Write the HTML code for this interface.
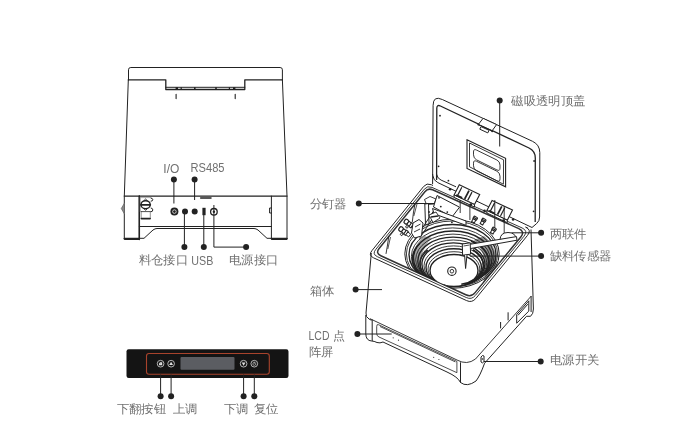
<!DOCTYPE html>
<html><head><meta charset="utf-8">
<style>
html,body{margin:0;padding:0;background:#fff;width:700px;height:434px;overflow:hidden}
svg{position:absolute;left:0;top:0;will-change:transform}
text{font-family:"Liberation Sans",sans-serif;fill:#707070}
.l{fill:none;stroke:#222;stroke-width:1;stroke-linejoin:round;stroke-linecap:round}
.t{fill:none;stroke:#222;stroke-width:1.6}
.p{fill:none;stroke:#222;stroke-width:1}
.d{fill:#222}
</style></head><body>
<svg width="700" height="434" viewBox="0 0 700 434">
<!-- ============ LEFT DEVICE (rear view) ============ -->
<g class="l">
  <path d="M128.5,80 V69.8 Q128.5,67.5 130.8,67.5 H280.1 Q282.4,67.5 282.4,69.8 V80"/>
  <path d="M128.3,79.8 H165.8 V89.5 H244.8 V79.8 H282.4" stroke-width="1.3"/>
  <path d="M165.8,87.3 H244.8" stroke-width="1"/>
  <path d="M175.6,88.4 H178 M180.6,88.4 H181.8 M194,88.4 H195.6 M215.2,88.4 H216.8 M228.8,88.4 H230 M233,88.4 H235.4" stroke-width="2.4" stroke-linecap="butt"/>
  <path d="M128.3,80 L124.3,196.1 V239.5 H139.3 V196.1" /><path d="M139.3,196.1 V239.5" stroke-width="1.5"/>
  <path d="M282.4,80 L287,196.1 V239.5 H271.4 V196.1"/>
  <path d="M124.3,196.1 H287" stroke-width="1.4"/>
  <path d="M139.3,226.5 H271.4"/>
  <path d="M139.3,238.3 H144 L153,230 Q155,228.5 157,228.5 H254 Q256,228.5 258,230 L267,238.3 H271.4"/>
  <path d="M124.3,238.6 H139.3 M271.4,238.6 H287" stroke-width="1.6"/>
  <path d="M176.1,94.2 V98.6 M235.2,94.2 V98.6" stroke-width="1.1"/>
  <!-- left tab -->
  <path d="M124.3,203.4 L121.3,208.5 L124.3,213.7 Z" fill="#888" stroke="#666" stroke-width="0.8"/>
  <path d="M271.4,208 H269.6 V213 H271.4" />
  <!-- connector -->
  <path d="M140.3,197.6 H150.9 M140.3,197.6 V211.5" stroke="#999" stroke-width="0.8"/>
  <ellipse cx="145.6" cy="204.7" rx="4.6" ry="4" stroke-width="1.5"/>
  <path d="M141,204.8 H150.3" stroke-width="1.7"/>
  <path d="M143.8,200.8 L145.6,199 L147.4,200.8 M143.8,208.6 L145.6,210.4 L147.4,208.6" stroke-width="0.9"/>
  <path d="M151.1,198.1 Q152.8,198.3 152.8,199.7 Q152.8,201.2 151.1,201.2 M151.1,208 Q152.8,208.2 152.8,209.9 Q152.8,211.8 151.1,211.8" stroke-width="1"/>
  <path d="M141.2,211.5 V218.6 M150.3,211.5 V218.6" stroke="#888" stroke-width="0.9"/>
  <path d="M141.2,211.6 H150.3" stroke-width="0.8"/>
  <path d="M141.5,218.6 H150" stroke-width="1.8"/>
  <!-- slot on top line -->
  <path d="M200.7,198 H211" stroke-width="1.5"/>
</g>
<!-- ports -->
<g>
  <circle cx="174.4" cy="211.6" r="4" fill="#222"/>
  <circle cx="174.4" cy="211.6" r="1.8" fill="none" stroke="#fff" stroke-width="0.7"/>
  <circle cx="185" cy="211.6" r="3" fill="#222"/>
  <circle cx="194.7" cy="211.6" r="3" fill="#222"/>
  <rect x="202.4" y="207.8" width="3.2" height="7.4" fill="#222"/>
  <circle cx="213.9" cy="211.8" r="3.3" fill="none" stroke="#222" stroke-width="1.3"/>
  <circle cx="213.9" cy="211.8" r="1.2" fill="#222"/>
</g>
<!-- callouts left -->
<g class="p">
  <path d="M173.9,179.6 V203.5"/>
  <path d="M194.6,179.6 V200"/>
  <path d="M184.4,214 V247.1"/>
  <path d="M203.8,215 V247.1"/>
  <path d="M213.9,205 V247.1 H246.1"/>
</g>
<g class="d">
  <circle cx="173.9" cy="179.6" r="3"/>
  <circle cx="194.6" cy="179.6" r="3"/>
  <circle cx="184.4" cy="247.1" r="3"/>
  <circle cx="203.8" cy="247.1" r="3"/>
  <circle cx="246.1" cy="247.1" r="3"/>
</g>
<text x="163.3" y="172.6" font-size="13.2" textLength="16" lengthAdjust="spacingAndGlyphs">I/O</text>
<text x="190.5" y="172.4" font-size="13" textLength="34" lengthAdjust="spacingAndGlyphs">RS485</text>
<text x="138.5" y="264.3" font-size="12" textLength="49.6" lengthAdjust="spacingAndGlyphs">料仓接口</text>
<text x="191.3" y="265.3" font-size="13" textLength="22" lengthAdjust="spacingAndGlyphs">USB</text>
<text x="229" y="264.3" font-size="12" textLength="49.6" lengthAdjust="spacingAndGlyphs">电源接口</text>

<!-- ============ CONTROL PANEL ============ -->
<rect x="126.5" y="349.2" width="162" height="28.7" rx="2.2" fill="#141414"/>
<rect x="146.5" y="353.5" width="122.8" height="20.8" rx="2.5" fill="none" stroke="#a8432c" stroke-width="1.1"/>
<rect x="180.5" y="356.9" width="54" height="12.8" rx="1" fill="#5b5d62"/>
<g fill="none" stroke="#cfcfcf" stroke-width="0.85">
  <circle cx="160.6" cy="363.7" r="3.35"/>
  <circle cx="171.1" cy="363.7" r="3.35"/>
  <circle cx="243.6" cy="363.7" r="3.35"/>
  <circle cx="254.3" cy="363.7" r="3.35"/>
</g>
<g fill="#ddd">
  <path d="M159.6,362.3 H162.2 V365.2 H159 V363 Z"/><path d="M158.8,362 L160.2,363.3" stroke="#141414" stroke-width="0.8"/>
  <path d="M171.1,361.7 L173,365 H169.2Z"/>
  <path d="M243.6,365.7 L245.5,362.4 H241.7Z"/>
  <circle cx="254.3" cy="363.9" r="1.5" fill="none" stroke="#bbb" stroke-width="0.7"/><path d="M254.3,361.6 V363.8" stroke="#bbb" stroke-width="0.7"/>
</g>
<g class="p">
  <path d="M160.6,374.5 V396.3 M171.1,374.5 V396.3 M243.6,374.5 V396.3 M254.3,374.5 V396.3"/>
</g>
<g class="d">
  <circle cx="160.6" cy="396.3" r="3"/>
  <circle cx="171.1" cy="396.3" r="3"/>
  <circle cx="243.6" cy="396.3" r="3"/>
  <circle cx="254.3" cy="396.3" r="3"/>
</g>
<text x="116.5" y="413.2" font-size="12" textLength="49.6" lengthAdjust="spacingAndGlyphs">下翻按钮</text>
<text x="172.5" y="413.2" font-size="12" textLength="24.8" lengthAdjust="spacingAndGlyphs">上调</text>
<text x="224" y="413.2" font-size="12" textLength="24.8" lengthAdjust="spacingAndGlyphs">下调</text>
<text x="253.5" y="413.2" font-size="12" textLength="24.8" lengthAdjust="spacingAndGlyphs">复位</text>

<!-- ============ RIGHT DEVICE ============ -->
<g id="right">
<!-- rim A0 (426.7266272189349, 182.62698224852073) B0 (368.09882352941173, 255.32545882352946) C0 (472.01785714285717, 303.1282142857143) D0 (531.9700598802395, 229.98652694610774) -->
<path d="M432.6,184 L433.1,105.3 Q433.2,95.3 442.3,99.5 L532.5,141.3 Q539.8,144.7 539.8,152.7 L539.6,217 Q539.6,221 536.6,223.6 L532,227.5" stroke="#222" fill="none" stroke-width="1"/>
<path d="M436.6,180 L436.8,108.3 Q436.8,104.3 440.4,106 L529,148 Q535.3,151 535.3,158 L535.2,222" stroke="#222" fill="none" stroke-width="1.3"/>
<path d="M432.6,174 L432.8,175.5 Q433.3,180.5 437.8,182.6 L532,227.5" stroke="#222" fill="none" stroke-width="1"/>
<path d="M436.6,174 L436.7,174.6 Q437.5,178.5 441.1,180.1 L456,186.8" stroke="#222" fill="none" stroke-width="1"/>
<circle cx="440" cy="115.7" r="0.9" fill="#222"/>
<circle cx="438.6" cy="166.3" r="0.9" fill="#222"/>
<circle cx="448.4" cy="180.7" r="0.9" fill="#222"/>
<circle cx="534.1" cy="161" r="0.9" fill="#222"/>
<circle cx="533.6" cy="211.3" r="0.9" fill="#222"/>
<path d="M467,139.8 L505.6,158.3 L505.6,186.8 L467,168.4 Z" stroke="#222" fill="none" stroke-width="1.1"/>
<path d="M469.5,143 L503.6,159.8 L503.4,184.2 L469.5,166.8 Z" stroke="#222" fill="none" stroke-width="0.9"/>
<path d="M473.5,152 Q473.5,148.5 476.6,150.1 L496.9,160 Q500,161.6 500,165.1 L500,168 Q500,171.5 496.9,169.9 L476.6,159.9 Q473.5,158.3 473.5,154.8 Z" stroke="#222" fill="none" stroke-width="0.9"/>
<path d="M473.5,163.2 Q473.5,159.7 476.6,161.3 L496.9,171.2 Q500,172.8 500,176.3 L500,178.8 Q500,182.3 496.9,180.8 L476.6,170.8 Q473.5,169.3 473.5,165.8 Z" stroke="#222" fill="none" stroke-width="0.9"/>
<path d="M483.1,118.3 L496.6,124.6 L492.1,130.8 L478.3,124.5 Z" stroke="#222" fill="#fff" stroke-width="1" />
<path d="M478.3,124.5 L492.1,130.8" stroke="#222" fill="none" stroke-width="1.3" />
<path d="M481,126.6 L489,130.3 L487.8,132.9 L479.8,129.2 Z" stroke="#222" fill="#fff" stroke-width="1" />
<circle cx="478.4" cy="124.6" r="1" fill="#222"/>
<circle cx="492.2" cy="131.3" r="1" fill="#222"/>
<path d="M433,185.5 L431.3,184.7 Q426.7,182.6 423.6,186.5 L371.9,250.7 Q368.1,255.3 373.5,257.8 L466.6,300.6 Q472,303.1 475.8,298.5 L527.5,235.4 Q532,230 525.6,227.1 L527.8,228.1" stroke="#222" fill="none" stroke-width="1"/>
<path d="M432,187.4 Q427.4,185.3 424.3,189.2 L375.7,249.5 Q371.9,254.2 377.4,256.7 L466.2,297.5 Q471.6,300.1 475.4,295.4 L524,236.2 Q528.4,230.8 522,227.9 Z" stroke="#222" fill="none" stroke-width="0.9"/>
<path d="M432.6,189.8 Q428.1,187.8 424.9,191.7 L379.1,248.5 Q375.4,253.2 380.8,255.7 L465.8,294.8 Q471.3,297.3 475.1,292.6 L520.8,236.9 Q525.2,231.5 518.8,228.6 Z" stroke="#333" fill="none" stroke-width="1.5"/>
<path d="M371.3,253 L366,313 Q365.5,317 369,319 L371.5,320.3" stroke="#222" fill="none" stroke-width="1" />
<path d="M370,318.7 L457,360 Q467,365.5 475.5,359 L531.3,296" stroke="#222" fill="none" stroke-width="0.9" />
<path d="M531,229.5 L533.4,309 Q533.4,314 530.5,316.3 L526.5,316.3 L484.6,363.2" stroke="#222" fill="none" stroke-width="1" />
<path d="M531.1,296 V312" stroke="#222" fill="none" stroke-width="1" />
<path d="M365.8,315 V334 Q366,340.5 371.5,341 Q374,341 377,342.5 Q380,343.5 383,342 L447,372 Q458,377 460.5,382.5 Q467,387.5 476,381 Q480,376 484.6,363.2" stroke="#222" fill="none" stroke-width="1" />
<path d="M372.2,319.5 V341" stroke="#222" fill="none" stroke-width="1" />
<path d="M460.5,362.3 V382.8" stroke="#222" fill="none" stroke-width="1" />
<path d="M378.5,324.7 L456.9,361.4 V372.7 L379,337 Q376.7,336 376.7,333.5 V326.5 Q376.7,323.8 378.5,324.7 Z" stroke="#222" fill="none" stroke-width="0.8" />
<path d="M380,326.5 L455.3,361.9" stroke="#222" fill="none" stroke-width="0.8" />
<circle cx="393.2" cy="337.8" r="0.6" fill="#333"/>
<circle cx="398.5" cy="340.2" r="0.6" fill="#333"/>
<circle cx="433.7" cy="357.3" r="0.6" fill="#333"/>
<circle cx="438.9" cy="359.5" r="0.6" fill="#333"/>
<path d="M516.7,314.6 L528.8,300.8 V311.1 L516.7,323.2 Z" stroke="#222" fill="none" stroke-width="1" />
<path d="M518,315.3 L527.8,304.2" stroke="#222" fill="none" stroke-width="1" />
<path d="M508.1,312.3 V320.4 M500.6,322 V328.4" stroke="#222" fill="none" stroke-width="1" />
<path d="M481,357 Q482.5,354.5 484,356 V361.5 Q482.5,364 481,362 Z" stroke="#222" fill="#fff" stroke-width="1" />
<circle cx="482.5" cy="359" r="0.8" fill="#222"/>
<clipPath id="bowlclip"><path d="M428.1,187.8 L375.4,253.2 L471.3,297.3 L525.2,231.5 Z"/></clipPath>
<g clip-path="url(#bowlclip)">
<ellipse cx="452" cy="253.8" rx="47.2" ry="34.5" stroke="#222" fill="none" stroke-width="1"/>
<ellipse cx="452" cy="254" rx="45.6" ry="33" stroke="#222" fill="none" stroke-width="0.9"/>
<ellipse cx="452.5" cy="254.5" rx="43.5" ry="30" stroke="#222" fill="none" stroke-width="1.4"/>
<ellipse cx="452.7" cy="256.3" rx="41.3" ry="28.4" stroke="#222" fill="none" stroke-width="0.9"/>
<ellipse cx="452.8" cy="258" rx="39.3" ry="27" stroke="#222" fill="none" stroke-width="1.4"/>
<ellipse cx="453" cy="259.6" rx="37.3" ry="25.5" stroke="#222" fill="none" stroke-width="0.9"/>
<ellipse cx="453.1" cy="261.2" rx="35.3" ry="24.1" stroke="#222" fill="none" stroke-width="1.4"/>
<ellipse cx="453.3" cy="262.8" rx="33.4" ry="22.8" stroke="#222" fill="none" stroke-width="0.9"/>
<ellipse cx="453.4" cy="264.3" rx="31.5" ry="21.4" stroke="#222" fill="none" stroke-width="1.4"/>
<ellipse cx="453.6" cy="265.9" rx="29.6" ry="20" stroke="#222" fill="none" stroke-width="0.9"/>
<ellipse cx="453.7" cy="267.4" rx="27.7" ry="18.7" stroke="#222" fill="none" stroke-width="1.4"/>
<ellipse cx="453.9" cy="269" rx="25.9" ry="17.3" stroke="#222" fill="none" stroke-width="0.9"/>
<ellipse cx="454" cy="270.5" rx="24" ry="16" stroke="#222" fill="#fff" stroke-width="1.4"/>
<path d="M484,236 Q499,248 496,268 Q493,284 478,292 Q487,280 485,263 Q483,248 474,240 Z" fill="#222" opacity="0.5"/>
<path d="M424,236 Q409,250 412,268 Q415,282 425,291 Q420,276 421,260 Q423,246 432,238 Z" fill="#222" opacity="0.4"/>
<path d="M471,241.2 A36,24 0 0 1 465.3,284.6" stroke="#222" fill="none" stroke-width="1.6"/>
<path d="M472.8,249.7 A30,20 0 0 1 461.3,284.3" stroke="#222" fill="none" stroke-width="1.6"/>
<path d="M445.6,285.6 A40,27 0 0 1 419.7,243.5" stroke="#222" fill="none" stroke-width="1.5"/>
<path d="M444.5,285.3 A33,22 0 0 1 427.7,249.9" stroke="#222" fill="none" stroke-width="1.5"/>
<circle cx="451.9" cy="271.2" r="4.2" stroke="#222" fill="none" stroke-width="1.1"/>
<circle cx="451.9" cy="271.2" r="1.8" stroke="#222" fill="none" stroke-width="0.9"/>
</g>
<path d="M460.2,196 V213 M469.9,200 V220" stroke="#222" fill="none" stroke-width="0.9" />
<path d="M459.3,184.8 L479.7,194.5 L474.5,204.6 L454.1,194.9 Z" stroke="#222" fill="#fff" stroke-width="1.1" />
<path d="M461.8,187.3 l-4.3,8.3" stroke="#222" fill="none" stroke-width="1.2" />
<path d="M469,190.7 l-4.3,8.3" stroke="#222" fill="none" stroke-width="1.7" />
<path d="M472,192.1 l-4.3,8.3" stroke="#222" fill="none" stroke-width="1.2" />
<path d="M454.1,194.9 L474.5,204.6 l0,2.5 L454.1,197.4 Z" stroke="#222" fill="#fff" stroke-width="1" />
<path d="M456.1,195.1 L462.1,197.9" stroke="#222" fill="none" stroke-width="1.8" />
<path d="M492.1,200.4 L512.5,210.1 L507.3,220.2 L486.9,210.5 Z" stroke="#222" fill="#fff" stroke-width="1.1" />
<path d="M494.6,202.9 l-4.3,8.3" stroke="#222" fill="none" stroke-width="1.2" />
<path d="M501.8,206.3 l-4.3,8.3" stroke="#222" fill="none" stroke-width="1.7" />
<path d="M504.8,207.7 l-4.3,8.3" stroke="#222" fill="none" stroke-width="1.2" />
<path d="M486.9,210.5 L507.3,220.2 l0,2.5 L486.9,213 Z" stroke="#222" fill="#fff" stroke-width="1" />
<path d="M488.9,210.7 L494.9,213.5" stroke="#222" fill="none" stroke-width="1.8" />
<circle cx="450.1" cy="189.2" r="1.3" fill="#222"/>
<circle cx="513.1" cy="219.5" r="1.3" fill="#222"/>
<circle cx="484.5" cy="210.7" r="1.3" fill="#222"/>
<circle cx="470.8" cy="204.5" r="1.3" fill="#222"/>
<circle cx="503.5" cy="220.5" r="1.3" fill="#222"/>
<path d="M424.5,199.5 L430,196.5 L436,199 L434,204 L426.5,204.5 Z" stroke="#222" fill="#fff" stroke-width="0.9" />
<path d="M437,195.5 L459.5,207.2 L452,217 L433.5,207 Z" stroke="#222" fill="#fff" stroke-width="1" />
<path d="M424.8,204 L428.5,203.5 L429,224 L425.5,224.5 Z" stroke="#222" fill="#fff" stroke-width="1" />
<path d="M434.5,209.5 L416.5,237 M437.5,211 L419.5,238.5" stroke="#222" fill="none" stroke-width="1" />
<path d="M432.5,208.5 L466,221 L466,225.3 L434,213.8 Z" stroke="#222" fill="#fff" stroke-width="1" />
<path d="M429,215 L436,212 L440,218 L433,222.5 Z" stroke="#222" fill="#fff" stroke-width="0.9" />
<path d="M431,217 L438,216" stroke="#222" fill="none" stroke-width="1.4" />
<circle cx="439" cy="197.8" r="0.9" fill="#222"/>
<circle cx="440.8" cy="206.6" r="0.9" fill="#222"/>
<circle cx="447.3" cy="212.1" r="0.9" fill="#222"/>
<circle cx="451.9" cy="222.3" r="0.9" fill="#222"/>
<circle cx="429" cy="212" r="0.9" fill="#222"/>
<g transform="translate(404.7,220.5) rotate(36)">
<rect x="0" y="-2.3" width="4" height="4.6" rx="1.6" stroke="#222" fill="#fff" stroke-width="1.2"/>
<rect x="4" y="-1.9" width="3" height="3.8" stroke="#222" fill="#fff" stroke-width="1"/>
<rect x="7" y="-2.4" width="2.2" height="4.8" stroke="#222" fill="#fff" stroke-width="1"/>
<rect x="9.2" y="-1.7" width="3.5" height="3.4" stroke="#222" fill="#fff" stroke-width="0.9"/>
<circle cx="5.5" cy="3.8" r="1.2" stroke="#222" fill="#fff" stroke-width="0.9"/>
</g>
<g transform="translate(399.4,228) rotate(36)">
<rect x="0" y="-2.3" width="4" height="4.6" rx="1.6" stroke="#222" fill="#fff" stroke-width="1.2"/>
<rect x="4" y="-1.9" width="3" height="3.8" stroke="#222" fill="#fff" stroke-width="1"/>
<rect x="7" y="-2.4" width="2.2" height="4.8" stroke="#222" fill="#fff" stroke-width="1"/>
<rect x="9.2" y="-1.7" width="3.5" height="3.4" stroke="#222" fill="#fff" stroke-width="0.9"/>
<circle cx="5.5" cy="3.8" r="1.2" stroke="#222" fill="#fff" stroke-width="0.9"/>
</g>
<path d="M413,223 L419,219.5 L423,223 L421.5,236 L414.5,238 L411.5,233 Z" stroke="#222" fill="#fff" stroke-width="1" />
<path d="M415,227 L420.5,224 M414,232 L420,229" stroke="#222" fill="none" stroke-width="0.9" />
<path d="M415,204 L413.5,212 L412.3,222" stroke="#222" fill="none" stroke-width="0.9" />
<path d="M417,204 L413.8,216" stroke="#222" fill="none" stroke-width="0.8" />
<path d="M388.8,236 L387.5,245 L386,253.9" stroke="#222" fill="none" stroke-width="0.9" />
<path d="M390.5,237 L387.8,249" stroke="#222" fill="none" stroke-width="0.8" />
<g transform="translate(474.5,219.5) rotate(30)">
<rect x="-2" y="-3" width="4" height="3" rx="0.6" stroke="#222" fill="#fff" stroke-width="1.1"/>
<rect x="-1.5" y="0" width="3" height="3.2" stroke="#222" fill="#fff" stroke-width="1"/>
<path d="M-2,-1.5 H2" stroke="#222" stroke-width="1"/>
</g>
<g transform="translate(483,221.5) rotate(30)">
<rect x="-2" y="-3" width="4" height="3" rx="0.6" stroke="#222" fill="#fff" stroke-width="1.1"/>
<rect x="-1.5" y="0" width="3" height="3.2" stroke="#222" fill="#fff" stroke-width="1"/>
<path d="M-2,-1.5 H2" stroke="#222" stroke-width="1"/>
</g>
<g transform="translate(493.3,230.5) rotate(30)">
<rect x="-2" y="-3" width="4" height="3" rx="0.6" stroke="#222" fill="#fff" stroke-width="1.1"/>
<rect x="-1.5" y="0" width="3" height="3.2" stroke="#222" fill="#fff" stroke-width="1"/>
<path d="M-2,-1.5 H2" stroke="#222" stroke-width="1"/>
</g>
<path d="M494.8,200 V228 M504.2,206 V236" stroke="#222" fill="none" stroke-width="0.9" />
<path d="M500,239.5 Q500.5,232.5 508,232.5 Q515.5,232.5 516.2,239 Z" stroke="#222" fill="#fff" stroke-width="1" />
<path d="M468,244.6 L516.5,236.6 L517,240.2 L468.5,248.9 Z" stroke="#222" fill="#fff" stroke-width="1" />
<path d="M462.3,244 L470.2,242.8 L470.6,254.2 L462.6,255.2 Z" stroke="#222" fill="#fff" stroke-width="1" />
<path d="M464.6,255 L465.6,268.5 L467,255" stroke="#222" fill="#fff" stroke-width="1" />
<path d="M463.5,246 L469.5,245" stroke="#222" fill="none" stroke-width="0.8" />
</g>
<!-- callouts right -->
<g class="p">
  <path d="M499.7,100.4 V146.5"/>
  <path d="M358.8,203.5 H434.5"/>
  <path d="M355.6,289.6 H382"/>
  <path d="M357.4,334 H391.7"/>
  <path d="M541.1,232.8 H511.5"/>
  <path d="M541.1,256.1 H470"/>
  <path d="M540.7,361.5 H484"/>
</g>
<g class="d">
  <circle cx="499.7" cy="100.4" r="3"/>
  <circle cx="358.8" cy="203.5" r="3"/>
  <circle cx="355.6" cy="289.6" r="3"/>
  <circle cx="357.4" cy="334" r="3"/>
  <circle cx="541.1" cy="232.7" r="3"/>
  <circle cx="541.1" cy="256.1" r="3"/>
  <circle cx="540.7" cy="361.5" r="3"/>
</g>
<text x="511.3" y="104.6" font-size="12" textLength="74.4" lengthAdjust="spacingAndGlyphs">磁吸透明顶盖</text>
<text x="309.5" y="207.8" font-size="12" textLength="37.2" lengthAdjust="spacingAndGlyphs">分钉器</text>
<text x="309.5" y="295.3" font-size="12" textLength="24.8" lengthAdjust="spacingAndGlyphs">箱体</text>
<text x="308.5" y="339.5" font-size="13" textLength="21" lengthAdjust="spacingAndGlyphs">LCD</text>
<text x="333.3" y="339.8" font-size="12">点</text>
<text x="308.5" y="355.5" font-size="12" textLength="24.8" lengthAdjust="spacingAndGlyphs">阵屏</text>
<text x="549.5" y="238.2" font-size="12" textLength="37.2" lengthAdjust="spacingAndGlyphs">两联件</text>
<text x="549.5" y="260.2" font-size="12" textLength="62.0" lengthAdjust="spacingAndGlyphs">缺料传感器</text>
<text x="550" y="363.5" font-size="12" textLength="49.6" lengthAdjust="spacingAndGlyphs">电源开关</text>
</svg>
</body></html>
